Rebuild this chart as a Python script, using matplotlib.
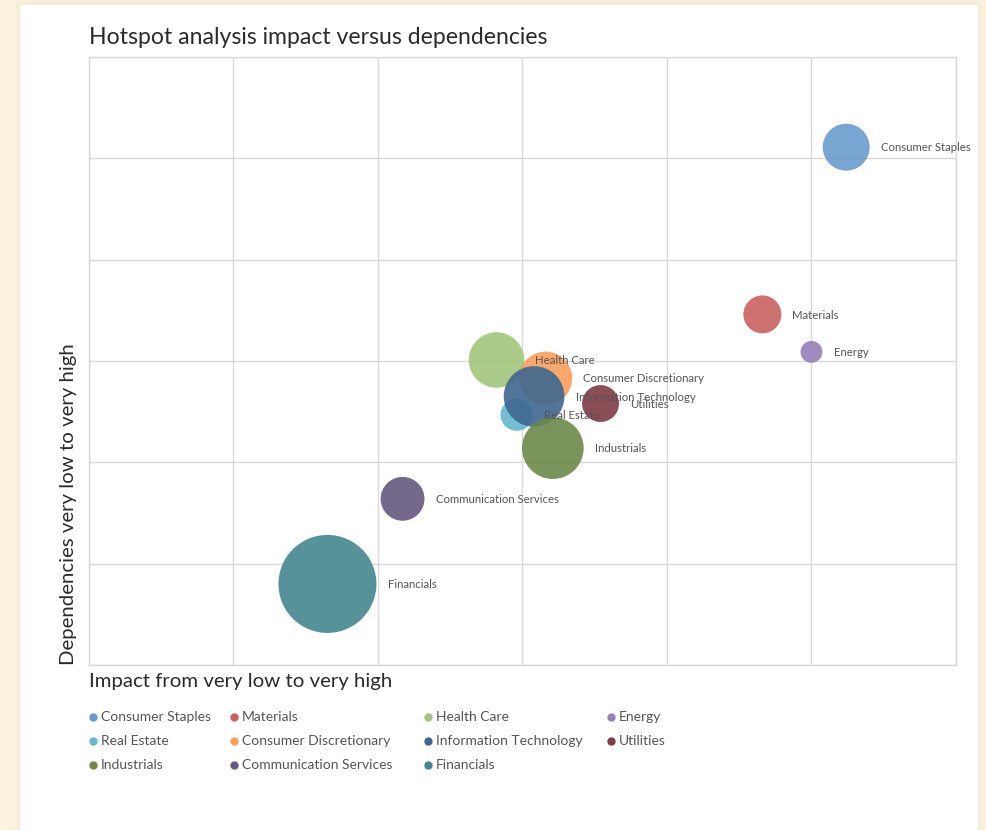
import matplotlib.pyplot as plt
from matplotlib.patches import Rectangle
from matplotlib.lines import Line2D

plt.rcParams['font.family'] = ['Lato', 'DejaVu Sans']

# sectors, impact (x), dependencies (y) and bubble weight
sectors = ['Consumer Staples', 'Materials', 'Health Care', 'Energy',
           'Real Estate', 'Consumer Discretionary', 'Information Technology', 'Utilities',
           'Industrials', 'Communication Services', 'Financials']
impact = [5.24, 4.66, 2.82, 5.0, 2.96, 3.16, 3.08, 3.54, 3.21, 2.17, 1.65]
dependency = [5.11, 3.46, 3.01, 3.09, 2.47, 2.83, 2.65, 2.58, 2.14, 1.64, 0.80]
weight = [5.5, 3.6, 7.7, 1.2, 2.6, 7.1, 9.2, 3.4, 9.5, 4.8, 24.0]
colors = ['#6a9bcf', '#c9615f', '#a2c67c', '#9580bb', '#63b8cc', '#f99e5b',
          '#3f6790', '#7e3a44', '#6c8849', '#66597f', '#43868f']

W, H = 987, 830
fig = plt.figure(figsize=(W / 100, H / 100), dpi=100)
fig.patch.set_facecolor('#fbf3df')

# white card with a soft edge
for i, a in enumerate([0.04, 0.06, 0.08]):
    d = 6 - 2 * i
    fig.add_artist(Rectangle(((20 - d) / W, 0), (958 + 2 * d) / W, (825 + d) / H,
                             transform=fig.transFigure, facecolor='#d8cfb8', alpha=a,
                             edgecolor='none', zorder=0))
fig.add_artist(Rectangle((20 / W, 0), 958 / W, 825 / H, transform=fig.transFigure,
                         facecolor='white', edgecolor='none', zorder=0))

ax = fig.add_axes([89 / W, 1 - 665 / H, (956 - 89) / W, (665 - 57) / H])
ax.set_facecolor('none')
ax.set_xlim(0, 6)
ax.set_ylim(0, 6)
ax.set_xticks(range(7))
ax.set_yticks(range(7))
ax.tick_params(length=0, labelbottom=False, labelleft=False)
ax.grid(True, color='#d9d9d9', linewidth=1)
ax.set_axisbelow(True)
for s in ax.spines.values():
    s.set_color('#d9d9d9')
    s.set_linewidth(1)

k = 207.4  # weight -> marker area (pt^2)
for name, x, y, w, c in zip(sectors, impact, dependency, weight, colors):
    ax.scatter(x, y, s=w * k, color=c, alpha=0.9, edgecolors='none', zorder=3)
    r_pt = (w * k) ** 0.5 / 2
    ax.annotate(name, (x, y), xytext=(r_pt + 8, -0.5), textcoords='offset points',
                ha='left', va='center', fontsize=8.2, color='#555555', zorder=4)

fig.text(89 / W, 1 - 37 / H, 'Hotspot analysis impact versus dependencies',
         fontsize=16.6, color='#2b2b2b', ha='left', va='center')
fig.text(89 / W, 1 - 681 / H, 'Impact from very low to very high',
         fontsize=14.7, color='#2b2b2b', ha='left', va='center')
fig.text(69 / W, 1 - 665 / H, 'Dependencies very low to very high',
         fontsize=14.7, color='#2b2b2b', ha='center', va='bottom', rotation=90)

# legend, row by row
col_x = [93, 234, 428, 611]
row_y = [717, 741, 765]
for i, (name, c) in enumerate(zip(sectors, colors)):
    px, py = col_x[i % 4], row_y[i // 4]
    fig.add_artist(Line2D([px / W], [1 - py / H], marker='o', markersize=5,
                          color=c, linestyle='none', transform=fig.transFigure))
    fig.text((px + 8) / W, 1 - py / H, name, fontsize=10, color='#555555',
             ha='left', va='center')

fig.savefig('out.png', dpi=100, facecolor=fig.get_facecolor())
